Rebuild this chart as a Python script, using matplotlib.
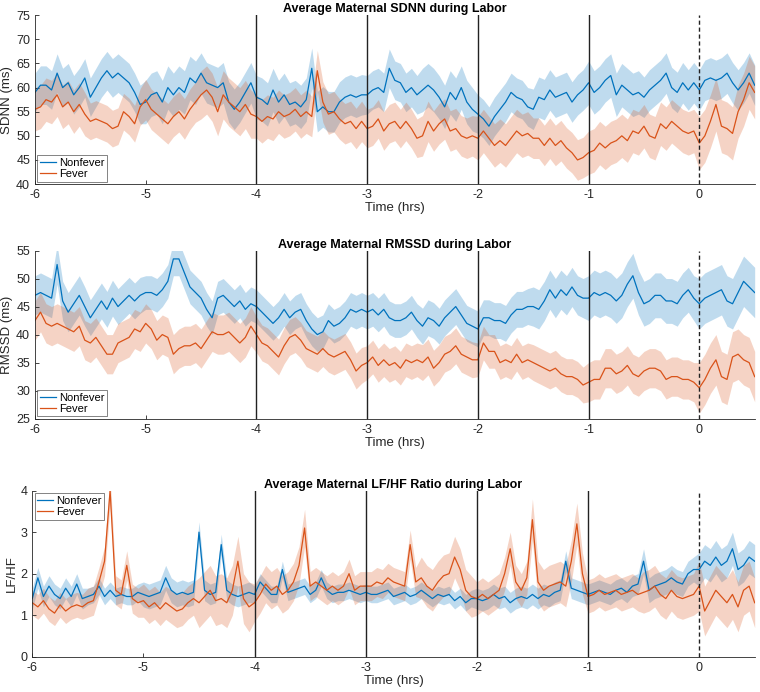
import numpy as np
import matplotlib
matplotlib.use("Agg")
import matplotlib.pyplot as plt

plt.rcParams['font.family'] = ['Liberation Sans', 'DejaVu Sans']
plt.rcParams['axes.unicode_minus'] = False

# time grid (hrs): -6 .. 0.5 step 0.05
t = np.round(np.arange(-6.0, 0.5001, 0.05), 2)

sdnn_nonfever = [
    59, 60.5, 60.5, 59.5, 63, 60, 61, 58.5, 60, 62,
    58, 60, 62, 63.5, 62, 63, 62, 61, 59, 56.5,
    57, 58.5, 59, 57, 60, 58.5, 60, 59, 62, 61,
    63, 61, 60.5, 60, 61, 57, 55.5, 57, 59, 61,
    58, 57.5, 56.5, 59.5, 57, 58.5, 56.5, 57, 56, 57.5,
    64, 55, 56, 55, 55, 57, 58, 58.5, 58, 58.5,
    58.5, 59.5, 60, 59, 64, 61.5, 61, 59, 60, 58.5,
    59.5, 60.5, 59.5, 58, 56, 59, 57.5, 60, 57, 55.5,
    54.5, 53.5, 52, 54, 55.5, 57, 59, 58, 57.5, 56,
    55.5, 58, 57.5, 59.5, 58, 58.5, 59, 57, 58.5, 59.5,
    61, 59, 60, 61.5, 62.5, 58.5, 60.5, 59.5, 58.5, 59,
    58, 59.5, 60.5, 61.5, 63, 60, 59, 61, 59.5, 61,
    59.5, 61.5, 62, 61.5, 62, 63, 61, 59.5, 61, 63, 60.5]
sdnn_fever = [
    55.5, 56, 57.5, 57, 58.5, 56, 57, 55, 56.5, 54.5,
    53, 53.5, 53, 52.5, 51.5, 52, 55, 54, 52.5, 56,
    57.5, 55.5, 54.5, 53.5, 52.5, 54, 55, 53.5, 55.5, 57,
    58.5, 59.5, 58, 55, 58.5, 57, 56, 55, 56.5, 54.5,
    54, 53, 54, 53.5, 55, 54, 54.5, 55.5, 54, 55,
    54, 63.5, 57, 54.5, 55, 53.5, 52.5, 53, 51.5, 53,
    51.5, 52, 53.5, 51, 52.5, 53, 51.5, 53, 51.5, 49.5,
    50, 53, 51, 52.5, 53.5, 51, 51.5, 50, 49.5, 50,
    49.5, 51, 49.5, 48, 49, 48, 49.5, 51, 50, 50.5,
    49.5, 49.5, 48, 49.5, 48, 49, 47.5, 46.5, 45, 45.5,
    46.5, 47, 48.5, 47.5, 48.5, 49, 50, 49, 51, 50.5,
    52, 50, 49.5, 52.5, 51.5, 53, 52, 51, 50.5, 51,
    48.5, 50, 53, 56.5, 52, 51.5, 50.5, 55, 57.5, 61, 59]

rmssd_nonfever = [
    47, 47.5, 47, 46.5, 52.5, 46, 44, 45.5, 47, 45,
    43, 44.5, 46, 44.5, 46.5, 45, 46, 47, 46, 47,
    47.5, 47.5, 47, 48, 49.5, 53.5, 53.5, 51, 48.5, 47.5,
    46.5, 44.5, 43, 46.5, 47, 46, 45, 46, 44.5, 45.5,
    45, 44, 43, 42, 43, 44.5, 43, 44, 44.5, 42.5,
    41, 40, 40.5, 42.5, 41.5, 42, 43, 44.5, 44, 44.5,
    44, 44.5, 43.5, 44.5, 43, 42.5, 42.5, 43, 44, 42.5,
    41.5, 43, 42.5, 41.5, 43, 44, 45, 43.5, 42, 41.5,
    41, 43, 43, 42.5, 42.5, 42, 43.5, 44.5, 44.5, 45,
    45, 44.5, 46, 48, 46.5, 48, 47, 48.5, 47, 46.5,
    46.5, 47.5, 47, 47.5, 47, 46, 47, 49, 50.5, 47.5,
    45.5, 46, 47, 47, 46, 46, 45.5, 47, 48, 46.5,
    45.5, 46.5, 47, 47.5, 48, 46, 45.5, 47.5, 49.5, 48.5, 47.5]
rmssd_fever = [
    42.5, 44, 42, 41.5, 42, 41.5, 41, 40.5, 41.5, 39,
    38.5, 39.5, 38, 36.5, 36.5, 38.5, 39, 39.5, 41, 40.5,
    42, 41, 39, 40, 39.5, 36.5, 37.5, 38, 38, 38.5,
    37.5, 39, 40.5, 40, 40, 40.5, 39.5, 38.5, 39.5, 41.5,
    40, 38.5, 38, 37, 36, 38, 39.5, 40, 39, 37.5,
    37, 36.5, 37.5, 36.5, 36, 36.5, 37, 35.5, 33.5, 34.5,
    35, 36, 34.5, 35.5, 34.5, 35, 34, 35.5, 35, 35.5,
    35, 36, 34, 35, 36.5, 37, 38, 36.5, 36, 35.5,
    35.5, 38.5, 37, 37, 35, 35.5, 35, 36.5, 35, 35.5,
    35, 34.5, 34, 33.5, 34, 33, 32.5, 32.5, 32, 31,
    31.5, 32, 32, 34, 34, 33, 33.5, 34.5, 33, 32.5,
    33.5, 34, 34, 33.5, 32, 32.5, 32.5, 32, 32, 31.5,
    30.5, 32, 34, 35.5, 32.5, 32, 36, 36.5, 35.5, 35, 32.5]

lfhf_nonfever = [
    1.4, 1.9, 1.45, 1.7, 1.5, 1.4, 1.65, 1.45, 1.75, 1.4,
    1.45, 1.5, 1.7, 1.45, 1.6, 1.45, 1.5, 1.45, 1.45, 1.55,
    1.5, 1.45, 1.5, 1.55, 1.9, 1.6, 1.5, 1.55, 1.5, 1.55,
    3.0, 1.6, 1.5, 1.55, 2.7, 1.6, 1.5, 1.45, 1.5, 1.55,
    1.5, 1.8, 1.65, 1.5, 1.5, 2.1, 1.55, 1.6, 1.65, 1.7,
    1.5, 1.6, 1.9, 1.6, 1.5, 1.55, 1.55, 1.6, 1.55, 1.5,
    1.55, 1.5, 1.5, 1.55, 1.6, 1.45, 1.5, 1.55, 1.45, 1.5,
    1.6, 1.5, 1.4, 1.5, 1.45, 1.5, 1.35, 1.45, 1.3, 1.4,
    1.4, 1.35, 1.4, 1.5, 1.4, 1.45, 1.3, 1.4, 1.45, 1.4,
    1.5, 1.4, 1.5, 1.45, 1.55, 1.6, 2.3, 1.65, 1.6, 1.55,
    1.5, 1.55, 1.6, 1.55, 1.5, 1.6, 1.65, 1.55, 1.7, 1.75,
    2.3, 1.6, 1.7, 1.75, 1.8, 1.9, 1.8, 1.75, 2.0, 2.1,
    2.1, 2.3, 2.2, 2.4, 2.2, 2.3, 2.6, 2.1, 2.2, 2.4, 2.3]
lfhf_fever = [
    1.3, 1.2, 1.35, 1.15, 1.05, 1.25, 1.1, 1.2, 1.25, 1.2,
    1.3, 1.35, 1.8, 2.3, 4.0, 1.6, 1.5, 2.2, 1.4, 1.3,
    1.35, 1.2, 1.3, 1.15, 1.3, 1.2, 1.1, 1.15, 1.3, 1.4,
    1.3, 1.45, 1.6, 1.35, 1.4, 1.3, 1.6, 2.3, 1.4, 1.2,
    1.3, 1.5, 1.75, 1.6, 1.7, 1.5, 1.6, 1.8, 2.2, 3.1,
    1.7, 1.8, 1.7, 1.6, 1.7, 1.6, 1.7, 2.0, 1.6, 1.7,
    1.7, 1.7, 1.8, 1.75, 1.9, 1.8, 1.75, 1.7, 2.7, 1.8,
    1.9, 1.7, 1.6, 1.8, 1.95, 2.0, 2.4, 2.1, 1.6, 1.45,
    1.4, 1.5, 1.4, 1.5, 1.6, 2.0, 2.6, 1.8, 1.6, 1.9,
    3.3, 1.8, 1.6, 1.7, 1.75, 1.8, 1.7, 2.3, 3.2, 2.0,
    1.45, 1.5, 1.6, 1.5, 1.55, 1.6, 1.5, 1.55, 1.6, 1.5,
    1.55, 1.6, 1.7, 1.5, 1.4, 1.6, 1.45, 1.4, 1.45, 1.5,
    1.7, 1.1, 1.35, 1.6, 1.45, 1.3, 1.5, 1.2, 1.6, 1.7, 1.3]

# standard-error half widths, one value per half hour block (-6, -5.5, ..., 0)
sdnn_nonfever_se = [4.0, 4.0, 4.5, 4.2, 4.5, 4.2, 4.0, 4.5, 4.0, 4.2, 4.5, 4.2, 4.2]
sdnn_fever_se = [4.5, 3.8, 4.2, 5.0, 4.5, 4.2, 4.0, 4.2, 4.5, 4.2, 4.5, 4.5, 5.5]
rmssd_nonfever_se = [3.5, 3.2, 3.0, 3.0, 3.0, 3.0, 3.0, 3.2, 3.2, 3.5, 4.0, 4.0, 4.5]
rmssd_fever_se = [3.5, 3.5, 3.5, 3.5, 3.2, 3.2, 3.0, 3.2, 3.0, 3.2, 3.5, 3.5, 4.5]
lfhf_nonfever_se = [0.25, 0.2, 0.3, 0.25, 0.2, 0.2, 0.2, 0.2, 0.25, 0.25, 0.25, 0.3, 0.4]
lfhf_fever_se = [0.3, 0.35, 0.4, 0.6, 0.45, 0.35, 0.35, 0.5, 0.4, 0.5, 0.4, 0.5, 0.6]

titles = ['Average Maternal SDNN during Labor',
          'Average Maternal RMSSD during Labor',
          'Average Maternal LF/HF Ratio during Labor']
ylabels = ['SDNN (ms)', 'RMSSD (ms)', 'LF/HF']
ylims = [(40, 75), (25, 55), (0, 4)]
yticks = [np.arange(40, 76, 5), np.arange(25, 56, 5), np.arange(0, 5, 1)]
xticks = [-6, -5, -4, -3, -2, -1, 0]
vlines_solid = [-4, -3, -2, -1]
legend_labels = ['Nonfever', 'Fever']

BLUE = '#0072BD'
ORANGE = '#D95319'


def expand(blocks, n):
    idx = np.minimum(np.arange(n) // 10, len(blocks) - 1)
    return np.asarray(blocks)[idx]


fig = plt.figure(figsize=(7.6, 6.92), dpi=100)
positions = [
    [0.046, 0.734, 0.947, 0.244],
    [0.046, 0.395, 0.947, 0.243],
    [0.0425, 0.051, 0.9505, 0.240],
]
data = [
    (sdnn_nonfever, sdnn_fever, sdnn_nonfever_se, sdnn_fever_se),
    (rmssd_nonfever, rmssd_fever, rmssd_nonfever_se, rmssd_fever_se),
    (lfhf_nonfever, lfhf_fever, lfhf_nonfever_se, lfhf_fever_se),
]
legend_locs = ['lower left', 'lower left', 'upper left']

for i in range(3):
    ax = fig.add_axes(positions[i])
    nf, fv, nfse, fvse = data[i]
    nf = np.asarray(nf, float)
    fv = np.asarray(fv, float)
    n = len(t)
    hn = expand(nfse, n)
    hf = expand(fvse, n)
    ax.fill_between(t, nf - hn, nf + hn, color=BLUE, alpha=0.25, lw=0)
    ax.fill_between(t, fv - hf, fv + hf, color=ORANGE, alpha=0.25, lw=0)
    l1, = ax.plot(t, nf, color=BLUE, lw=0.9)
    l2, = ax.plot(t, fv, color=ORANGE, lw=0.9)
    for xv in vlines_solid:
        ax.axvline(xv, color='#222222', lw=1.0)
    ax.axvline(0, color='#222222', lw=1.0, ls=(0, (3, 2)))
    ax.set_xlim(-6, 0.5)
    ax.set_ylim(*ylims[i])
    ax.set_xticks(xticks)
    ax.set_yticks(yticks[i])
    ax.tick_params(direction='in', length=3, labelsize=9, colors='#262626',
                   width=0.6)
    for s in ['top', 'right']:
        ax.spines[s].set_visible(False)
    for s in ['left', 'bottom']:
        ax.spines[s].set_color('#262626')
        ax.spines[s].set_linewidth(0.6)
    ax.set_title(titles[i], fontsize=9, fontweight='bold', pad=2)
    ax.set_ylabel(ylabels[i], fontsize=9.5, color='#262626', labelpad=2)
    ax.set_xlabel('Time (hrs)', fontsize=9.5, color='#262626', labelpad=1)
    leg = ax.legend([l1, l2], legend_labels, loc=legend_locs[i], fontsize=8,
                    frameon=True, fancybox=False, borderpad=0.25,
                    handlelength=1.4, handletextpad=0.3, labelspacing=0.1,
                    borderaxespad=0.2)
    leg.get_frame().set_edgecolor('#262626')
    leg.get_frame().set_linewidth(0.5)

fig.savefig('out.png', dpi=100)
